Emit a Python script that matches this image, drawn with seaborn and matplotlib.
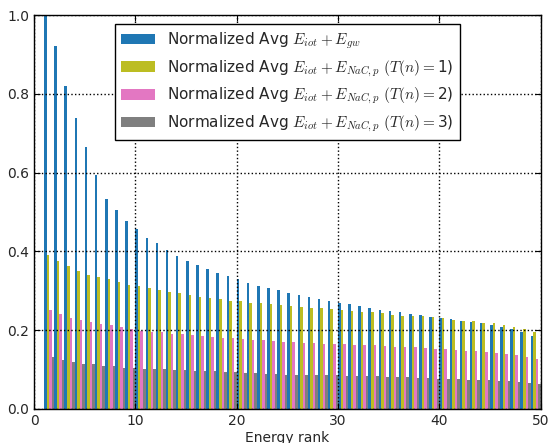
import matplotlib
matplotlib.use('Agg')
import matplotlib.pyplot as plt
import numpy as np
import seaborn as sns
import pandas as pd

# energy ranks shown on the plot (rank 50 falls outside the x-limit)
ranks = list(range(1, 50))

gw = [1.000, 0.922, 0.820, 0.739, 0.666, 0.595, 0.534, 0.505, 0.478, 0.457,
      0.434, 0.420, 0.404, 0.387, 0.375, 0.365, 0.354, 0.346, 0.337, 0.329,
      0.320, 0.313, 0.306, 0.301, 0.295, 0.289, 0.285, 0.280, 0.274, 0.269,
      0.266, 0.261, 0.257, 0.252, 0.248, 0.245, 0.241, 0.238, 0.234, 0.231,
      0.229, 0.224, 0.221, 0.218, 0.213, 0.209, 0.204, 0.196, 0.186]
nac1 = [0.391, 0.376, 0.362, 0.350, 0.341, 0.335, 0.329, 0.323, 0.315, 0.311,
        0.306, 0.301, 0.297, 0.293, 0.289, 0.285, 0.282, 0.280, 0.275, 0.273,
        0.270, 0.268, 0.266, 0.264, 0.262, 0.259, 0.257, 0.255, 0.254, 0.252,
        0.249, 0.247, 0.246, 0.243, 0.239, 0.237, 0.236, 0.235, 0.233, 0.230,
        0.226, 0.224, 0.222, 0.219, 0.217, 0.213, 0.208, 0.203, 0.195]
nac2 = [0.252, 0.242, 0.231, 0.225, 0.220, 0.215, 0.212, 0.207, 0.203, 0.199,
        0.196, 0.194, 0.191, 0.189, 0.187, 0.185, 0.183, 0.180, 0.179, 0.177,
        0.175, 0.174, 0.172, 0.170, 0.169, 0.168, 0.167, 0.166, 0.165, 0.164,
        0.163, 0.162, 0.161, 0.160, 0.158, 0.157, 0.156, 0.155, 0.153, 0.151,
        0.149, 0.147, 0.146, 0.144, 0.142, 0.140, 0.137, 0.132, 0.126]
nac3 = [0.132, 0.125, 0.119, 0.115, 0.113, 0.110, 0.108, 0.105, 0.104, 0.102,
        0.102, 0.101, 0.099, 0.098, 0.097, 0.096, 0.095, 0.094, 0.093, 0.091,
        0.090, 0.089, 0.088, 0.087, 0.087, 0.086, 0.086, 0.085, 0.085, 0.084,
        0.084, 0.083, 0.083, 0.082, 0.080, 0.080, 0.079, 0.078, 0.077, 0.076,
        0.075, 0.074, 0.074, 0.073, 0.072, 0.071, 0.069, 0.067, 0.063]

labels = [r'Normalized Avg $E_{iot}+E_{gw}$',
          r'Normalized Avg $E_{iot}+E_{NaC,p}$ $(T(n)=$1)',
          r'Normalized Avg $E_{iot}+E_{NaC,p}$ $(T(n)=$2)',
          r'Normalized Avg $E_{iot}+E_{NaC,p}$ $(T(n)=$3)']
colors = ['#1f77b4', '#bcbd22', '#e377c2', '#7f7f7f']

rows = []
for lab, vals in zip(labels, [gw, nac1, nac2, nac3]):
    for r, v in zip(ranks, vals):
        rows.append({'rank': r, 'value': v, 'series': lab})
Data = pd.DataFrame(rows)
# bars were drawn edge-aligned: group for rank n spans [n, n+1]
Data['pos'] = Data['rank'] + 0.5

sns.set_style('ticks')
plt.rcParams['font.family'] = ['DejaVu Sans']
plt.rcParams['mathtext.fontset'] = 'cm'

fig = plt.figure(figsize=(5.49, 4.43), dpi=100)
ax = fig.add_axes([0.062, 0.077, 0.923, 0.889])

sns.barplot(data=Data, x='pos', y='value', hue='series', hue_order=labels,
            palette=colors, native_scale=True, width=1.0, gap=0,
            linewidth=0, saturation=1, ax=ax)

ax.set_xlim(0, 50)
ax.set_ylim(0, 1.0)
ax.set_xticks(np.arange(0, 51, 10))
ax.set_yticks(np.arange(0, 1.01, 0.2))
ax.set_xticklabels([str(t) for t in range(0, 51, 10)])
ax.set_yticklabels(['%.1f' % t for t in np.arange(0, 1.01, 0.2)])
ax.set_xlabel('Energy rank', fontsize=10, labelpad=2)
ax.set_ylabel('')
ax.grid(True, color='black', linestyle=':', linewidth=1)
ax.set_axisbelow(False)
ax.tick_params(direction='in', top=True, right=True, length=4,
               labelsize=10, color='black')
for s in ax.spines.values():
    s.set_color('black')
    s.set_linewidth(1)

sns.move_legend(ax, 'upper center', bbox_to_anchor=(0.5, 1.0), title=None,
                frameon=True, fontsize=11, fancybox=False,
                borderaxespad=0.6, handlelength=2.2, handleheight=0.7)
leg = ax.get_legend()
leg.get_frame().set_edgecolor('black')
leg.get_frame().set_alpha(1)

fig.savefig('out.png', dpi=100)
